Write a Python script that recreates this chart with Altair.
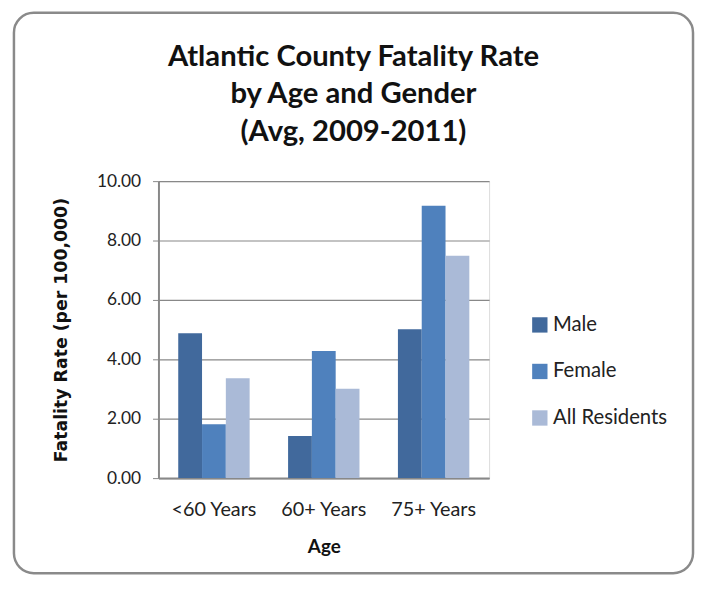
import altair as alt
import pandas as pd

ages = ["<60 Years", "60+ Years", "75+ Years"]
series = ["Male", "Female", "All Residents"]
male = [4.88, 1.42, 5.01]
female = [1.81, 4.28, 9.17]
all_res = [3.36, 3.01, 7.49]
colors = ["#41699C", "#4F81BD", "#AABAD7"]

rows = []
for i, a in enumerate(ages):
    for s, vals in zip(series, [male, female, all_res]):
        rows.append({"Age": a, "Series": s, "Rate": vals[i]})
df = pd.DataFrame(rows)

FONT = "Lato"

bars = alt.Chart(df).mark_bar().encode(
    x=alt.X("Age:N", sort=ages,
            scale=alt.Scale(paddingInner=0.35, paddingOuter=0.18),
            axis=alt.Axis(title="Age", labelAngle=0, ticks=False, labelPadding=22,
                          labelFontSize=20, titleFontSize=19, titleFontWeight="bold",
                          titlePadding=18, domainColor="#888", domainWidth=2,
                          labelFont=FONT, titleFont=FONT, labelColor="#222",
                          titleColor="#111", grid=False)),
    xOffset=alt.XOffset("Series:N", sort=series),
    y=alt.Y("Rate:Q", scale=alt.Scale(domain=[0, 10]),
            axis=alt.Axis(title="Fatality Rate (per 100,000)", values=[0, 2, 4, 6, 8, 10],
                          format=".2f", labelFontSize=17.5, titleFontSize=17.5,
                          titleFontWeight="bold", labelPadding=12, tickSize=6,
                          tickColor="#888", domainColor="#888", domainWidth=2,
                          gridColor="#888", gridWidth=1.2, titlePadding=26,
                          labelFont=FONT, titleFont="DejaVu Sans", labelColor="#222",
                          titleColor="#111")),
    color=alt.Color("Series:N", sort=series,
                    scale=alt.Scale(domain=series, range=colors),
                    legend=alt.Legend(title=None, orient="none", legendX=375, legendY=135,
                                      symbolType="square", symbolSize=240,
                                      symbolStrokeWidth=0, labelFontSize=20.5,
                                      labelFont=FONT, labelColor="#222",
                                      rowPadding=26, labelOffset=3)),
)

border = alt.Chart(pd.DataFrame({"a": [0]})).mark_rect(
    fillOpacity=0, stroke="#8a8a8a", strokeWidth=2.5, cornerRadius=20
).encode(x=alt.value(-146), x2=alt.value(540), y=alt.value(-170), y2=alt.value(396))

chart = alt.layer(border, bars).properties(
    width=334, height=300,
    autosize=alt.AutoSizeParams(type="none"),
    padding={"left": 152, "top": 172, "right": 208, "bottom": 98},
    title=alt.TitleParams(
        ["Atlantic County Fatality Rate", "by Age and Gender", "(Avg, 2009-2011)"],
        font=FONT, fontSize=29.5, fontWeight="bold", color="#111",
        anchor="middle", lineHeight=38, offset=-137, dx=30),
).configure_view(stroke=None).configure(background="white")

chart.save("out.html", embed_options={"renderer": "svg", "actions": False})
